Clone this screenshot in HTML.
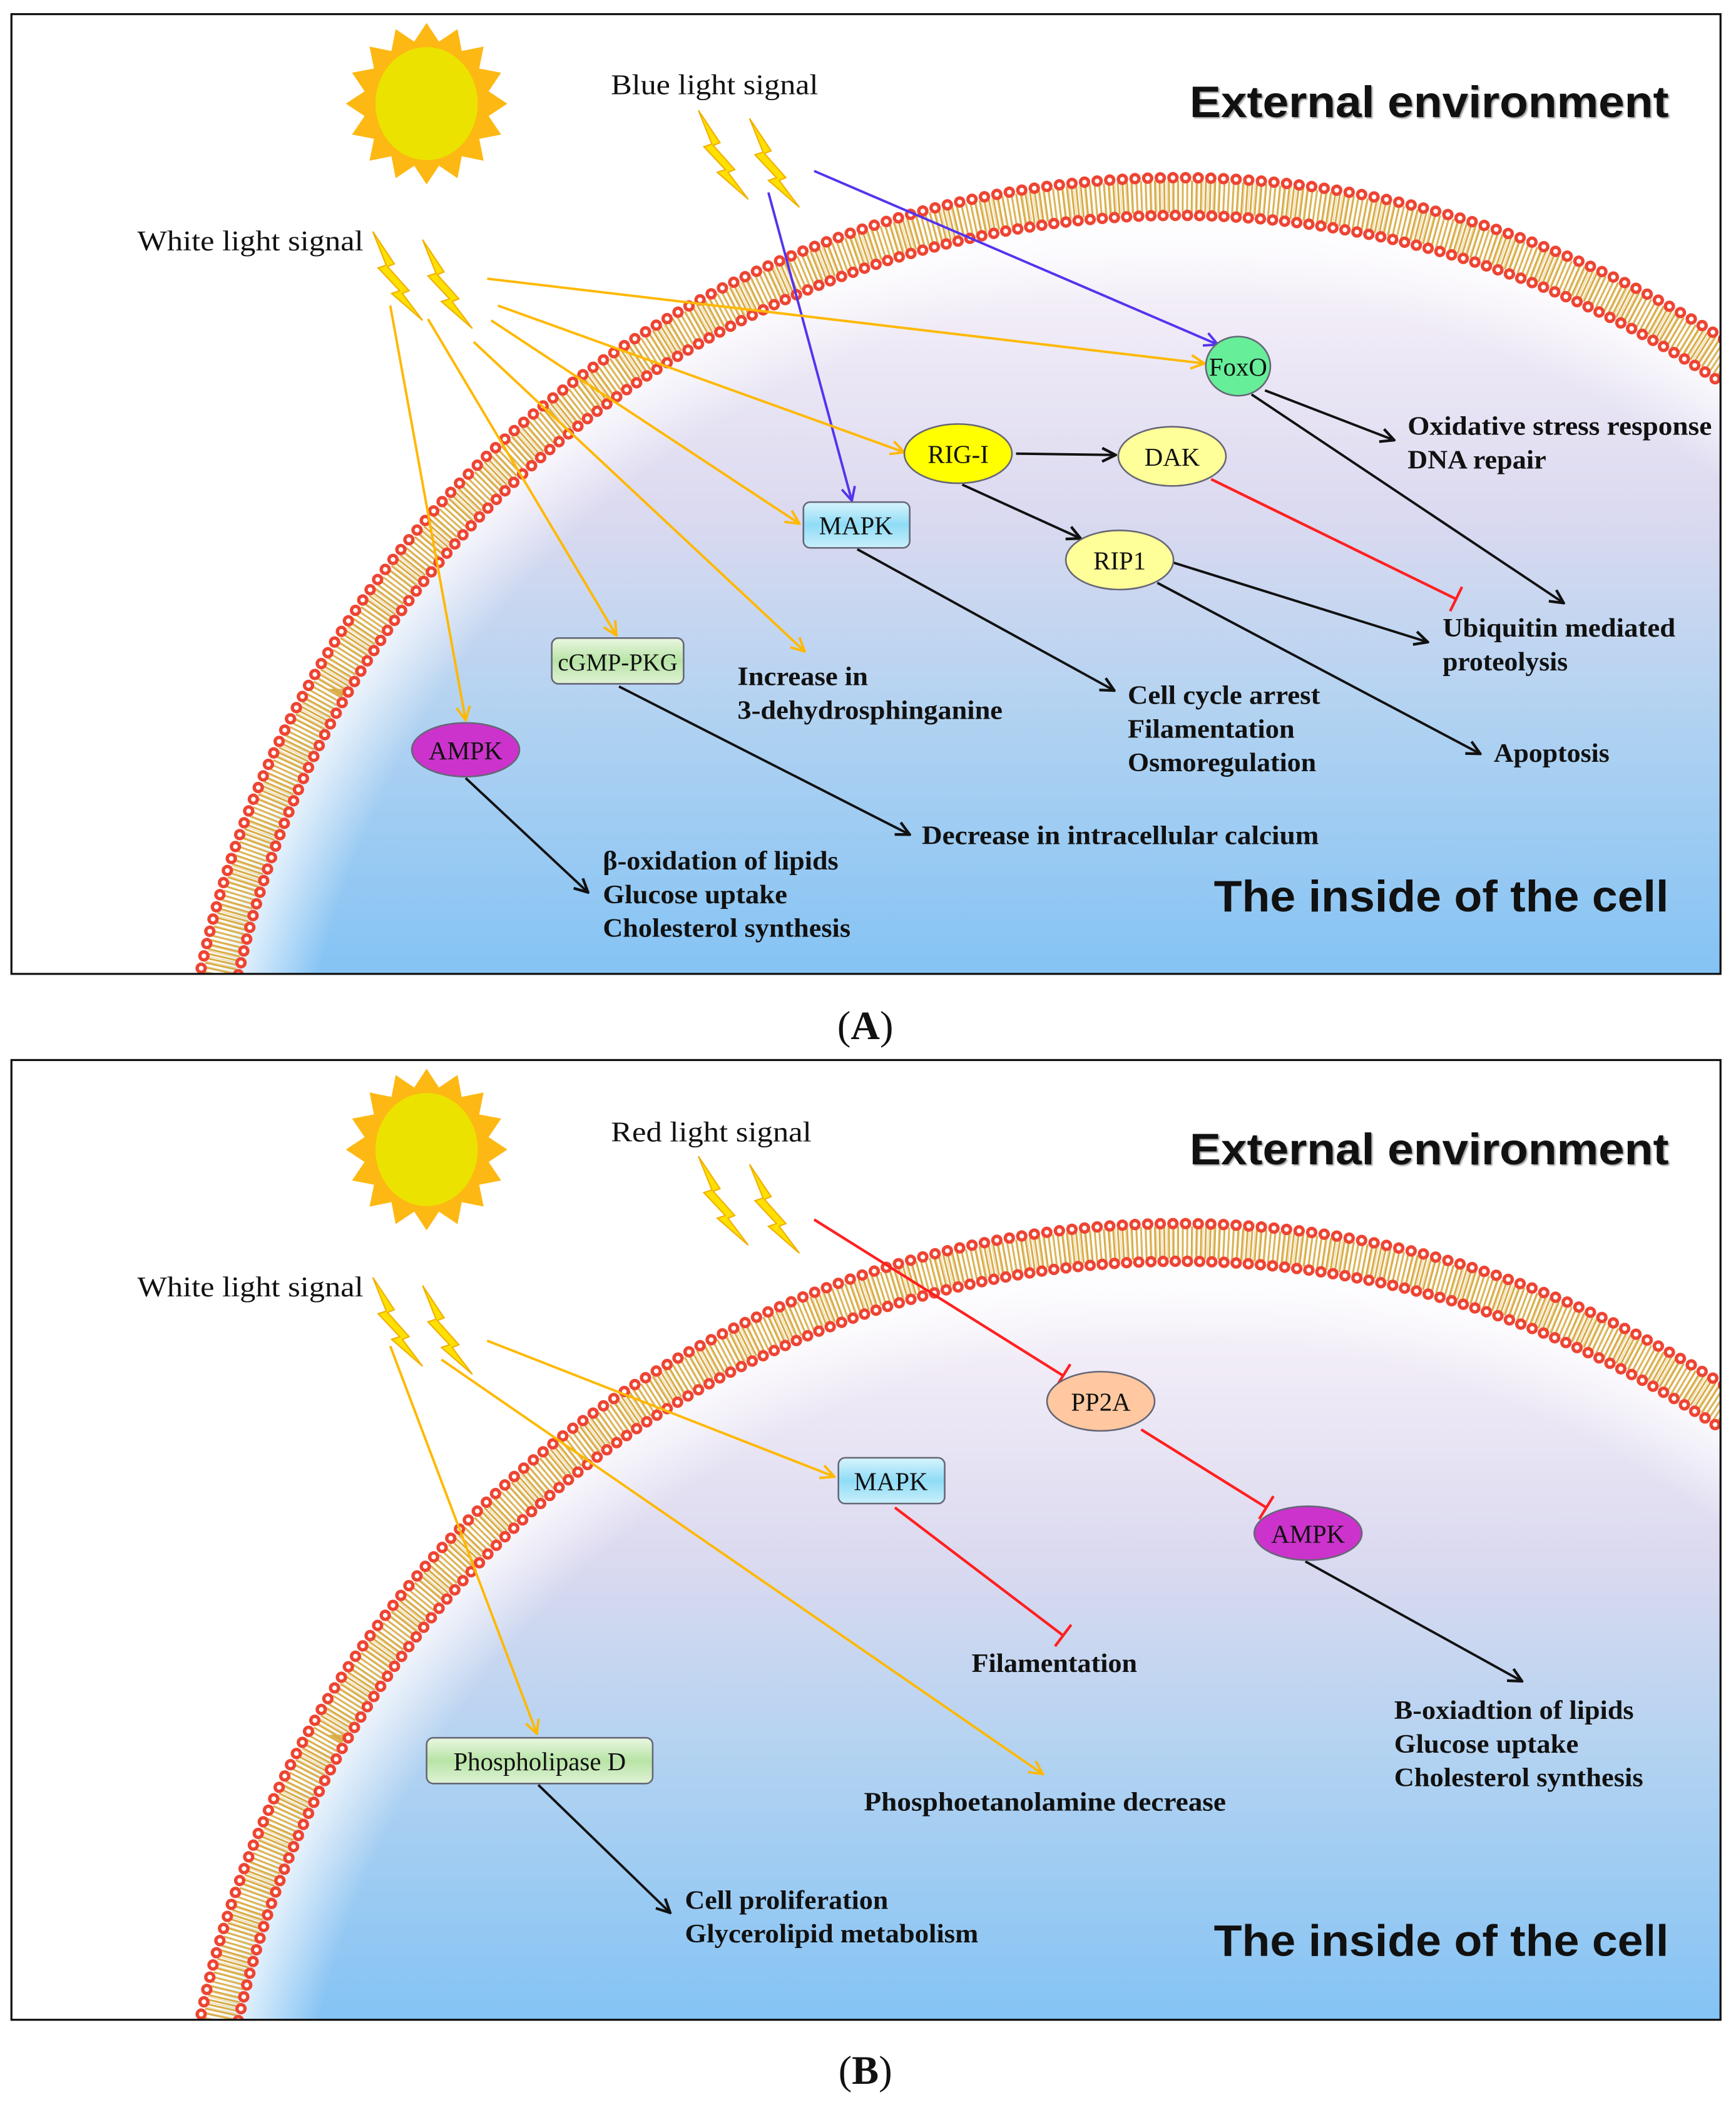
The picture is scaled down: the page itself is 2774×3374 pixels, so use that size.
<!DOCTYPE html>
<html><head><meta charset="utf-8"><style>
html,body{margin:0;padding:0;background:#fff;overflow:hidden;width:2774px;height:3374px;}
svg{display:block;}
.s{font-family:"Liberation Serif",serif;font-size:21px;fill:#111;}
.b{font-family:"Liberation Serif",serif;font-size:19.5px;font-weight:bold;fill:#111;}
.n{font-family:"Liberation Serif",serif;font-size:19px;fill:#111;text-anchor:middle;}
.h{font-family:"Liberation Sans",sans-serif;font-size:33px;font-weight:bold;fill:#111;}
</style></head><body>
<svg width="2774" height="3374" viewBox="0 0 1290 1569" xmlns="http://www.w3.org/2000/svg">
<defs>
<linearGradient id="inside" x1="0" y1="146" x2="0" y2="724" gradientUnits="userSpaceOnUse">
<stop offset="0" stop-color="#ffffff"/>
<stop offset="0.15" stop-color="#f1ecf7"/>
<stop offset="0.4" stop-color="#dcdaf0"/>
<stop offset="0.65" stop-color="#b4d3f1"/>
<stop offset="1" stop-color="#84c3f4"/>
</linearGradient>
<radialGradient id="glow" cx="0.5" cy="0.5" r="0.5">
<stop offset="0.9" stop-color="#fff" stop-opacity="0"/>
<stop offset="1" stop-color="#fff" stop-opacity="0.95"/>
</radialGradient>
<linearGradient id="mapk" x1="0" y1="0" x2="0" y2="1"><stop offset="0" stop-color="#d8f4fd"/><stop offset="0.5" stop-color="#8fdcf6"/><stop offset="1" stop-color="#c9effb"/></linearGradient>
<linearGradient id="grn" x1="0" y1="0" x2="0" y2="1"><stop offset="0" stop-color="#eaf7e2"/><stop offset="0.5" stop-color="#b8e4a6"/><stop offset="1" stop-color="#dff2d5"/></linearGradient>
<marker id="ay" viewBox="0 0 12 12" refX="11" refY="6" markerWidth="12" markerHeight="12" markerUnits="userSpaceOnUse" orient="auto"><path d="M1,1 L11,6 L1,11" fill="none" stroke="#ffb800" stroke-width="1.8"/></marker>
<marker id="ab" viewBox="0 0 12 12" refX="11" refY="6" markerWidth="12" markerHeight="12" markerUnits="userSpaceOnUse" orient="auto"><path d="M1,1 L11,6 L1,11" fill="none" stroke="#5533ee" stroke-width="1.8"/></marker>
<marker id="ak" viewBox="0 0 12 12" refX="11" refY="6" markerWidth="12" markerHeight="12" markerUnits="userSpaceOnUse" orient="auto"><path d="M1,1 L11,6 L1,11" fill="none" stroke="#111" stroke-width="2"/></marker>
<g id="bolt"><path d="M0,0 L16,24 L11,26 L27,44 L22,46 L37,66 L14,46 L20,44 L4,27 L10,25 Z" fill="#ffe000" stroke="#f0b000" stroke-width="1"/></g>
<g id="sun"><polygon fill="#fdb813" points="60,0 46.1,9.2 55.4,23 39.1,26.1 42.4,42.4 26.1,39.1 23,55.4 9.2,46.1 0,60 -9.2,46.1 -23,55.4 -26.1,39.1 -42.4,42.4 -39.1,26.1 -55.4,23 -46.1,9.2 -60,0 -46.1,-9.2 -55.4,-23 -39.1,-26.1 -42.4,-42.4 -26.1,-39.1 -23,-55.4 -9.2,-46.1 0,-60 9.2,-46.1 23,-55.4 26.1,-39.1 42.4,-42.4 39.1,-26.1 55.4,-23 46.1,-9.2"/><ellipse rx="38" ry="42" fill="#ebe200"/></g>
<clipPath id="cpA"><rect x="9" y="11" width="1269" height="712"/></clipPath>
<clipPath id="cpB"><rect x="9" y="788" width="1269" height="712"/></clipPath>
<g id="mem">
<circle cx="876" cy="875" r="729" fill="url(#inside)"/>
<circle cx="876" cy="875" r="729" fill="url(#glow)"/>
<circle cx="876" cy="875" r="729" fill="none" stroke="#d6a83c" stroke-width="24" stroke-dasharray="1.4 2" opacity="0.95"/>
<circle cx="876" cy="875" r="729" fill="none" stroke="#e8c070" stroke-width="24" stroke-dasharray="0.8 3" stroke-dashoffset="1.5" opacity="0.6"/>
<circle cx="876" cy="875" r="743" fill="none" stroke="#ee4433" stroke-width="8.5" stroke-dasharray="0 9.4" stroke-linecap="round"/>
<circle cx="876" cy="875" r="743" fill="none" stroke="#fff" stroke-width="3.5" stroke-dasharray="0 9.4" stroke-linecap="round"/>
<circle cx="876" cy="875" r="715" fill="none" stroke="#ee4433" stroke-width="8.5" stroke-dasharray="0 9.05" stroke-linecap="round"/>
<circle cx="876" cy="875" r="715" fill="none" stroke="#fff" stroke-width="3.5" stroke-dasharray="0 9.05" stroke-linecap="round"/>
</g>
</defs>
<rect width="1290" height="1569" fill="#fff"/>

<!-- PANEL A -->
<g clip-path="url(#cpA)"><use href="#mem"/></g>
<rect x="8.5" y="10.5" width="1270" height="713" fill="none" stroke="#111" stroke-width="1.5"/>
<use href="#sun" transform="translate(317,77)"/>
<use href="#bolt" transform="translate(519,82)"/>
<use href="#bolt" transform="translate(557,88)"/>
<use href="#bolt" transform="translate(277,172)"/>
<use href="#bolt" transform="translate(314,178)"/>
<text class="s" x="454" y="70" textLength="154" lengthAdjust="spacingAndGlyphs">Blue light signal</text>
<text class="s" x="102" y="186" textLength="168" lengthAdjust="spacingAndGlyphs">White light signal</text>
<text class="h" x="884" y="87" textLength="356" lengthAdjust="spacingAndGlyphs" style="text-shadow:2px 2px 2px #999">External environment</text>
<text class="h" x="902" y="677" textLength="338" lengthAdjust="spacingAndGlyphs">The inside of the cell</text>

<g fill="none" stroke-width="1.8">
<line x1="605" y1="127" x2="905" y2="256" stroke="#5533ee" marker-end="url(#ab)"/>
<line x1="571" y1="143" x2="633" y2="372" stroke="#5533ee" marker-end="url(#ab)"/>
<line x1="362" y1="207" x2="895" y2="270" stroke="#ffb800" marker-end="url(#ay)"/>
<line x1="370" y1="227" x2="672" y2="336" stroke="#ffb800" marker-end="url(#ay)"/>
<line x1="365" y1="238" x2="594" y2="389" stroke="#ffb800" marker-end="url(#ay)"/>
<line x1="352" y1="254" x2="598" y2="484" stroke="#ffb800" marker-end="url(#ay)"/>
<line x1="318" y1="237" x2="458" y2="472" stroke="#ffb800" marker-end="url(#ay)"/>
<line x1="290" y1="227" x2="346" y2="535" stroke="#ffb800" marker-end="url(#ay)"/>
<g stroke="#111">
<line x1="755" y1="337" x2="829" y2="338" marker-end="url(#ak)"/>
<line x1="715" y1="360" x2="803" y2="400" marker-end="url(#ak)"/>
<line x1="940" y1="290" x2="1036" y2="327" marker-end="url(#ak)"/>
<line x1="930" y1="293" x2="1162" y2="448" marker-end="url(#ak)"/>
<line x1="872" y1="418" x2="1061" y2="477" marker-end="url(#ak)"/>
<line x1="860" y1="433" x2="1100" y2="560" marker-end="url(#ak)"/>
<line x1="637" y1="408" x2="828" y2="513" marker-end="url(#ak)"/>
<line x1="460" y1="510" x2="676" y2="620" marker-end="url(#ak)"/>
<line x1="346" y1="578" x2="437" y2="663" marker-end="url(#ak)"/>
</g>
<g stroke="#ff2020" stroke-width="2">
<line x1="900" y1="356" x2="1082" y2="445"/>
<line x1="1077.6" y1="454" x2="1086.4" y2="436"/>
</g>
</g>

<g stroke="#667" stroke-width="1.2">
<ellipse cx="920" cy="272" rx="24" ry="22" fill="#66ee99"/>
<ellipse cx="712" cy="337" rx="40" ry="22" fill="#ffff00"/>
<ellipse cx="871" cy="339" rx="40" ry="22" fill="#ffff99"/>
<ellipse cx="832" cy="416" rx="40" ry="22" fill="#ffff99"/>
<rect x="597" y="373" width="79" height="34" rx="5" fill="url(#mapk)"/>
<rect x="410" y="474" width="98" height="34" rx="5" fill="url(#grn)"/>
<ellipse cx="346" cy="557" rx="40" ry="20" fill="#cc33cc"/>
</g>
<text class="n" x="920" y="279">FoxO</text>
<text class="n" x="712" y="344">RIG-I</text>
<text class="n" x="871" y="346">DAK</text>
<text class="n" x="832" y="423">RIP1</text>
<text class="n" x="636" y="397">MAPK</text>
<text class="n" x="459" y="498" style="font-size:18px">cGMP-PKG</text>
<text class="n" x="346" y="564">AMPK</text>

<g class="b">
<text class="b" x="1046" y="323" textLength="226" lengthAdjust="spacingAndGlyphs">Oxidative stress response</text>
<text class="b" x="1046" y="348" textLength="103" lengthAdjust="spacingAndGlyphs">DNA repair</text>
<text class="b" x="1072" y="473" textLength="173" lengthAdjust="spacingAndGlyphs">Ubiquitin mediated</text>
<text class="b" x="1072" y="498" textLength="93" lengthAdjust="spacingAndGlyphs">proteolysis</text>
<text class="b" x="838" y="523" textLength="143" lengthAdjust="spacingAndGlyphs">Cell cycle arrest</text>
<text class="b" x="838" y="548" textLength="124" lengthAdjust="spacingAndGlyphs">Filamentation</text>
<text class="b" x="838" y="573" textLength="140" lengthAdjust="spacingAndGlyphs">Osmoregulation</text>
<text class="b" x="1110" y="566" textLength="86" lengthAdjust="spacingAndGlyphs">Apoptosis</text>
<text class="b" x="548" y="509" textLength="97" lengthAdjust="spacingAndGlyphs">Increase in</text>
<text class="b" x="548" y="534" textLength="197" lengthAdjust="spacingAndGlyphs">3-dehydrosphinganine</text>
<text class="b" x="685" y="627" textLength="295" lengthAdjust="spacingAndGlyphs">Decrease in intracellular calcium</text>
<text class="b" x="448" y="646" textLength="175" lengthAdjust="spacingAndGlyphs">β-oxidation of lipids</text>
<text class="b" x="448" y="671" textLength="137" lengthAdjust="spacingAndGlyphs">Glucose uptake</text>
<text class="b" x="448" y="696" textLength="184" lengthAdjust="spacingAndGlyphs">Cholesterol synthesis</text>
</g>

<text x="643" y="772" text-anchor="middle" style="font-family:'Liberation Serif',serif;font-size:30px;fill:#111">(<tspan font-weight="bold">A</tspan>)</text>

<!-- PANEL B -->
<g clip-path="url(#cpB)"><use href="#mem" transform="translate(0,777)"/></g>
<rect x="8.5" y="787.5" width="1270" height="713" fill="none" stroke="#111" stroke-width="1.5"/>
<use href="#sun" transform="translate(317,854)"/>
<use href="#bolt" transform="translate(519,859)"/>
<use href="#bolt" transform="translate(557,865)"/>
<use href="#bolt" transform="translate(277,949)"/>
<use href="#bolt" transform="translate(314,955)"/>
<text class="s" x="454" y="848" textLength="149" lengthAdjust="spacingAndGlyphs">Red light signal</text>
<text class="s" x="102" y="963" textLength="168" lengthAdjust="spacingAndGlyphs">White light signal</text>
<text class="h" x="884" y="865" textLength="356" lengthAdjust="spacingAndGlyphs" style="text-shadow:2px 2px 2px #999">External environment</text>
<text class="h" x="902" y="1453" textLength="338" lengthAdjust="spacingAndGlyphs">The inside of the cell</text>

<g fill="none" stroke-width="1.8">
<line x1="362" y1="996" x2="620" y2="1097" stroke="#ffb800" marker-end="url(#ay)"/>
<line x1="328" y1="1010" x2="775" y2="1318" stroke="#ffb800" marker-end="url(#ay)"/>
<line x1="290" y1="1000" x2="399" y2="1288" stroke="#ffb800" marker-end="url(#ay)"/>
<g stroke="#111">
<line x1="970" y1="1160" x2="1131" y2="1249" marker-end="url(#ak)"/>
<line x1="400" y1="1326" x2="498" y2="1421" marker-end="url(#ak)"/>
</g>
<g stroke="#ff2020" stroke-width="2">
<line x1="605" y1="906" x2="790" y2="1022"/>
<line x1="784.7" y1="1030.5" x2="795.3" y2="1013.5"/>
<line x1="848" y1="1062" x2="941" y2="1120"/>
<line x1="935.7" y1="1128.5" x2="946.3" y2="1111.5"/>
<line x1="665" y1="1120" x2="790" y2="1215"/>
<line x1="784" y1="1223" x2="796" y2="1207"/>
</g>
</g>
<g stroke="#667" stroke-width="1.2">
<ellipse cx="818" cy="1041" rx="40" ry="22" fill="#ffc8a0"/>
<rect x="623" y="1083" width="79" height="34" rx="5" fill="url(#mapk)"/>
<ellipse cx="972" cy="1139" rx="40" ry="20" fill="#cc33cc"/>
<rect x="317" y="1291" width="168" height="34" rx="5" fill="url(#grn)"/>
</g>
<text class="n" x="818" y="1048">PP2A</text>
<text class="n" x="662" y="1107">MAPK</text>
<text class="n" x="972" y="1146">AMPK</text>
<text class="n" x="401" y="1315">Phospholipase D</text>

<text class="b" x="722" y="1242" textLength="123" lengthAdjust="spacingAndGlyphs">Filamentation</text>
<text class="b" x="1036" y="1277" textLength="178" lengthAdjust="spacingAndGlyphs">B-oxiadtion of lipids</text>
<text class="b" x="1036" y="1302" textLength="137" lengthAdjust="spacingAndGlyphs">Glucose uptake</text>
<text class="b" x="1036" y="1327" textLength="185" lengthAdjust="spacingAndGlyphs">Cholesterol synthesis</text>
<text class="b" x="642" y="1345" textLength="269" lengthAdjust="spacingAndGlyphs">Phosphoetanolamine decrease</text>
<text class="b" x="509" y="1418" textLength="151" lengthAdjust="spacingAndGlyphs">Cell proliferation</text>
<text class="b" x="509" y="1443" textLength="218" lengthAdjust="spacingAndGlyphs">Glycerolipid metabolism</text>

<text x="643" y="1548" text-anchor="middle" style="font-family:'Liberation Serif',serif;font-size:30px;fill:#111">(<tspan font-weight="bold">B</tspan>)</text>
</svg>
</body></html>
